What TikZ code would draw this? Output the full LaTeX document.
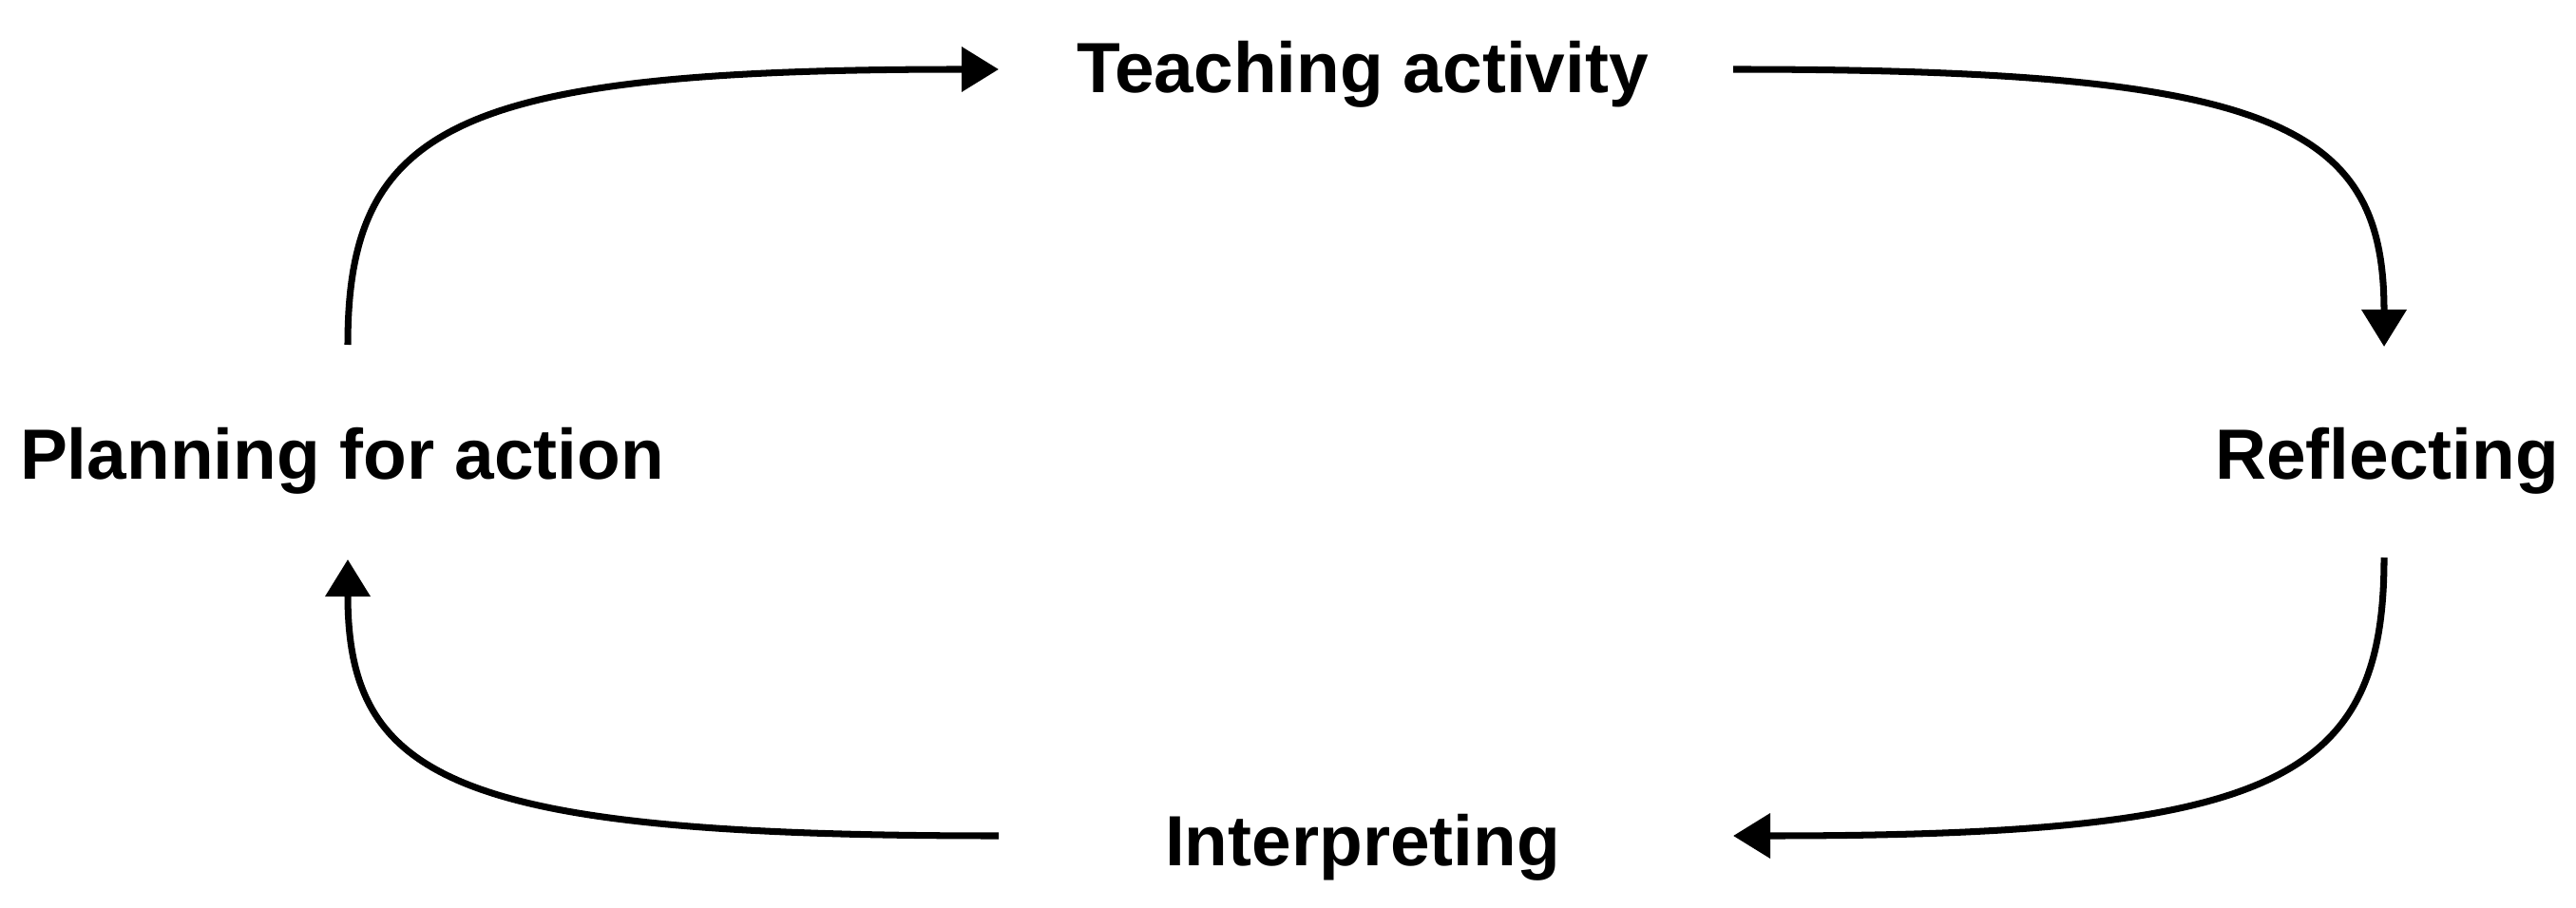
\documentclass[tikz,border=0pt]{standalone}
\usepackage{fontspec}
\setmainfont{Liberation Sans}
\usetikzlibrary{arrows.meta}
\tikzset{
  lbl/.style={font=\fontsize{21.3}{25}\selectfont\bfseries, inner sep=0pt, anchor=base},
  cyc/.style={line width=2pt, -{Triangle[length=0.39cm,width=0.46cm]}}
}
\begin{document}
\begin{tikzpicture}
\useasboundingbox (0,0) rectangle (27.11,9.55);
\node[lbl] (teach) at (14.34,8.57) {Teaching activity};
\node[lbl] (plan) at (3.60,4.50) {Planning for action};
\node[lbl] (refl) at (25.12,4.50) {Reflecting};
\node[lbl] (interp) at (14.34,0.44) {Interpreting};
% connector end points
\coordinate (planTop) at (3.66,5.92);
\coordinate (teachL) at (10.51,8.82);
\coordinate (teachR) at (18.24,8.82);
\coordinate (reflTop) at (25.09,5.90);
\coordinate (reflBot) at (25.09,3.68);
\coordinate (interpR) at (18.24,0.75);
\coordinate (interpL) at (10.51,0.75);
\coordinate (planBot) at (3.66,3.66);
\draw[cyc] (planTop) .. controls (3.66,8.25) and (4.81,8.82) .. (teachL);
\draw[cyc] (teachR) .. controls (23.94,8.82) and (25.09,8.25) .. (reflTop);
\draw[cyc] (reflBot) .. controls (25.09,1.32) and (23.94,0.75) .. (interpR);
\draw[cyc] (interpL) .. controls (4.81,0.75) and (3.66,1.32) .. (planBot);
\end{tikzpicture}
\end{document}
